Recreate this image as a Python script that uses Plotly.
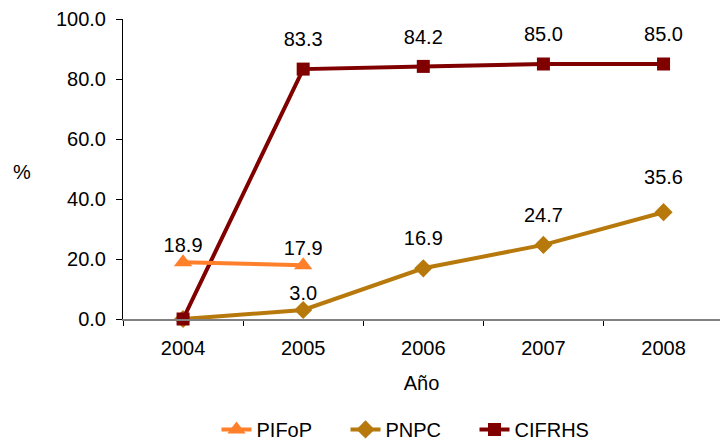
import plotly.graph_objects as go

years = ["2004", "2005", "2006", "2007", "2008"]
pifop = [18.9, 17.9, None, None, None]
pnpc = [0.0, 3.0, 16.9, 24.7, 35.6]
cifrhs = [0.0, 83.3, 84.2, 85.0, 85.0]
pnpc_labels = ["", "3.0", "16.9", "24.7", "35.6"]
cifrhs_labels = ["", "83.3", "84.2", "85.0", "85.0"]
pifop_labels = ["18.9", "17.9", "", "", ""]
y_ticks = [0, 20, 40, 60, 80, 100]

font = "Liberation Sans, Arial, sans-serif"
FS = 20

fig = go.Figure()


def add_series(name, y, labels, color, symbol, msize, rank, label_gap):
    fig.add_trace(go.Scatter(
        x=years, y=y, name=name, mode="lines+markers",
        line=dict(color=color, width=4), marker=dict(symbol=symbol, size=msize, color=color),
        legendrank=rank, cliponaxis=False))
    # label layer (invisible spacer markers set the label offset above each point)
    fig.add_trace(go.Scatter(
        x=years, y=y, mode="markers+text", text=labels, textposition="top center",
        textfont=dict(size=FS, color="black"), showlegend=False, hoverinfo="skip",
        marker=dict(size=label_gap, opacity=0), cliponaxis=False))


add_series("PNPC", pnpc, pnpc_labels, "#B8790C", "diamond", 14, 2, [7, 7, 27, 27, 35])
add_series("CIFRHS", cifrhs, cifrhs_labels, "#800000", "square", 13, 3, [27, 27, 27, 27, 27])
add_series("PIFoP", pifop, pifop_labels, "#FF7F2A", "triangle-up", 16, 1, [7, 7, 7, 7, 7])

fig.update_layout(
    width=720, height=440,
    margin=dict(l=123, r=0, t=19, b=121, autoexpand=False),
    paper_bgcolor="white", plot_bgcolor="white",
    font=dict(family=font, size=FS, color="black"),
    showlegend=True,
    legend=dict(orientation="h", x=(410 - 123) / 597, xanchor="center", y=-0.433, yanchor="bottom",
                font=dict(size=FS), traceorder="normal", entrywidth=84, entrywidthmode="pixels"),
    xaxis=dict(type="category", range=[-0.5, 4.47], showline=True, linecolor="#808080", linewidth=2,
               ticks="outside", tickson="boundaries", ticklen=5, tickcolor="black",
               ticklabelstandoff=10,
               showgrid=False, zeroline=False,
               title=dict(text="Año", font=dict(size=FS), standoff=18)),
    yaxis=dict(range=[0, 100], tickvals=y_ticks, tickformat=".1f",
               showline=True, linecolor="black", linewidth=1,
               ticks="outside", ticklen=6, tickcolor="black", ticklabelstandoff=6,
               showgrid=False, zeroline=False),
    annotations=[dict(text="%", x=(22 - 123) / 597, y=(319 - 172) / 300, xref="paper", yref="paper",
                      xanchor="center", yanchor="middle", showarrow=False, font=dict(size=FS))],
)

fig.write_html("out.html", config={"displayModeBar": False},
               post_script="document.body.style.margin='0';")
